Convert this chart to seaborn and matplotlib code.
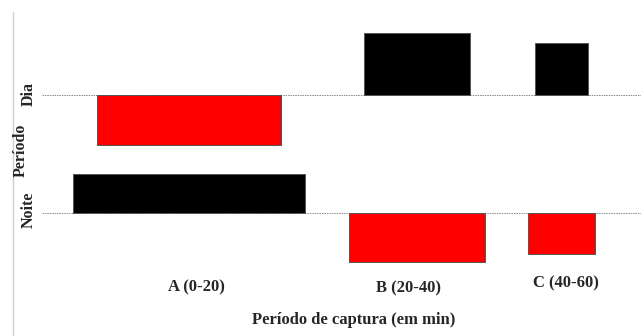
import numpy as np
import matplotlib
matplotlib.use("Agg")
import matplotlib.pyplot as plt
import seaborn as sns

# --- data: association plot (Periodo x Periodo de captura) ---
categorias = ["A (0-20)", "B (20-40)", "C (40-60)"]
periodos = ["Dia", "Noite"]
# width of each cell ~ sqrt(expected count)
largura_dia = [8.0, 4.6, 2.3]
largura_noite = [10.1, 5.9, 2.9]
# height of each cell ~ Pearson residual
residuo_dia = [-2.5, 3.1, 2.6]
residuo_noite = [1.95, -2.45, -2.05]

sns.set_style("white")
plt.rcParams["font.family"] = ["Liberation Serif", "DejaVu Serif"]
plt.rcParams["font.weight"] = "bold"

fig = plt.figure(figsize=(6.41, 3.36), dpi=100)
ax = fig.add_axes([0, 0, 1, 1])
ax.set_xlim(-73 / 23, (641 - 73) / 23)
ax.set_ylim((213 - 336) / 20, 213 / 20)
ax.axis("off")

# --- layout of columns (max width per column + fixed gap) ---
gap = 1.9
col_w = np.maximum(largura_dia, largura_noite)
centros = np.cumsum(col_w + gap) - gap - col_w / 2

# --- layout of rows ---
row_gap = 1.45
base_noite = 0.0
base_dia = base_noite + max(max(residuo_noite), 0) + row_gap + abs(min(min(residuo_dia), 0))

def cor(r):
    return "black" if r > 0 else "#ff0000"

for base, larg, res in [(base_dia, largura_dia, residuo_dia),
                        (base_noite, largura_noite, residuo_noite)]:
    ax.axhline(base, xmin=42 / 641, xmax=1, color="#888888", lw=0.7,
               ls=(0, (1.5, 1)), zorder=1)
    ax.bar(centros, res, width=larg, bottom=base,
           color=[cor(r) for r in res], edgecolor="#555555", lw=0.7, zorder=2)

# left border line
fig.add_artist(plt.Line2D([13 / 641, 13 / 641], [0, 1 - 12 / 336],
                          color="#d0d0d0", lw=1))

# --- texts ---
def fx(px):
    return px / 641

def fy(py):
    return 1 - py / 336

fig.text(fx(29), fy(94), "Dia", rotation=90, ha="center", va="center", fontsize=11.5)
fig.text(fx(29), fy(210), "Noite", rotation=90, ha="center", va="center", fontsize=11.5)
fig.text(fx(21), fy(150), "Período", rotation=90, ha="center", va="center", fontsize=11.5)

lab_x = [196, 408, 566]
lab_y = [287, 288, 283]
for nome, lx, ly in zip(categorias, lab_x, lab_y):
    fig.text(fx(lx), fy(ly), nome, ha="center", va="center", fontsize=12)

fig.text(fx(354), fy(320), "Período de captura (em min)", ha="center",
         va="center", fontsize=12)

fig.savefig("out.png", dpi=100)
